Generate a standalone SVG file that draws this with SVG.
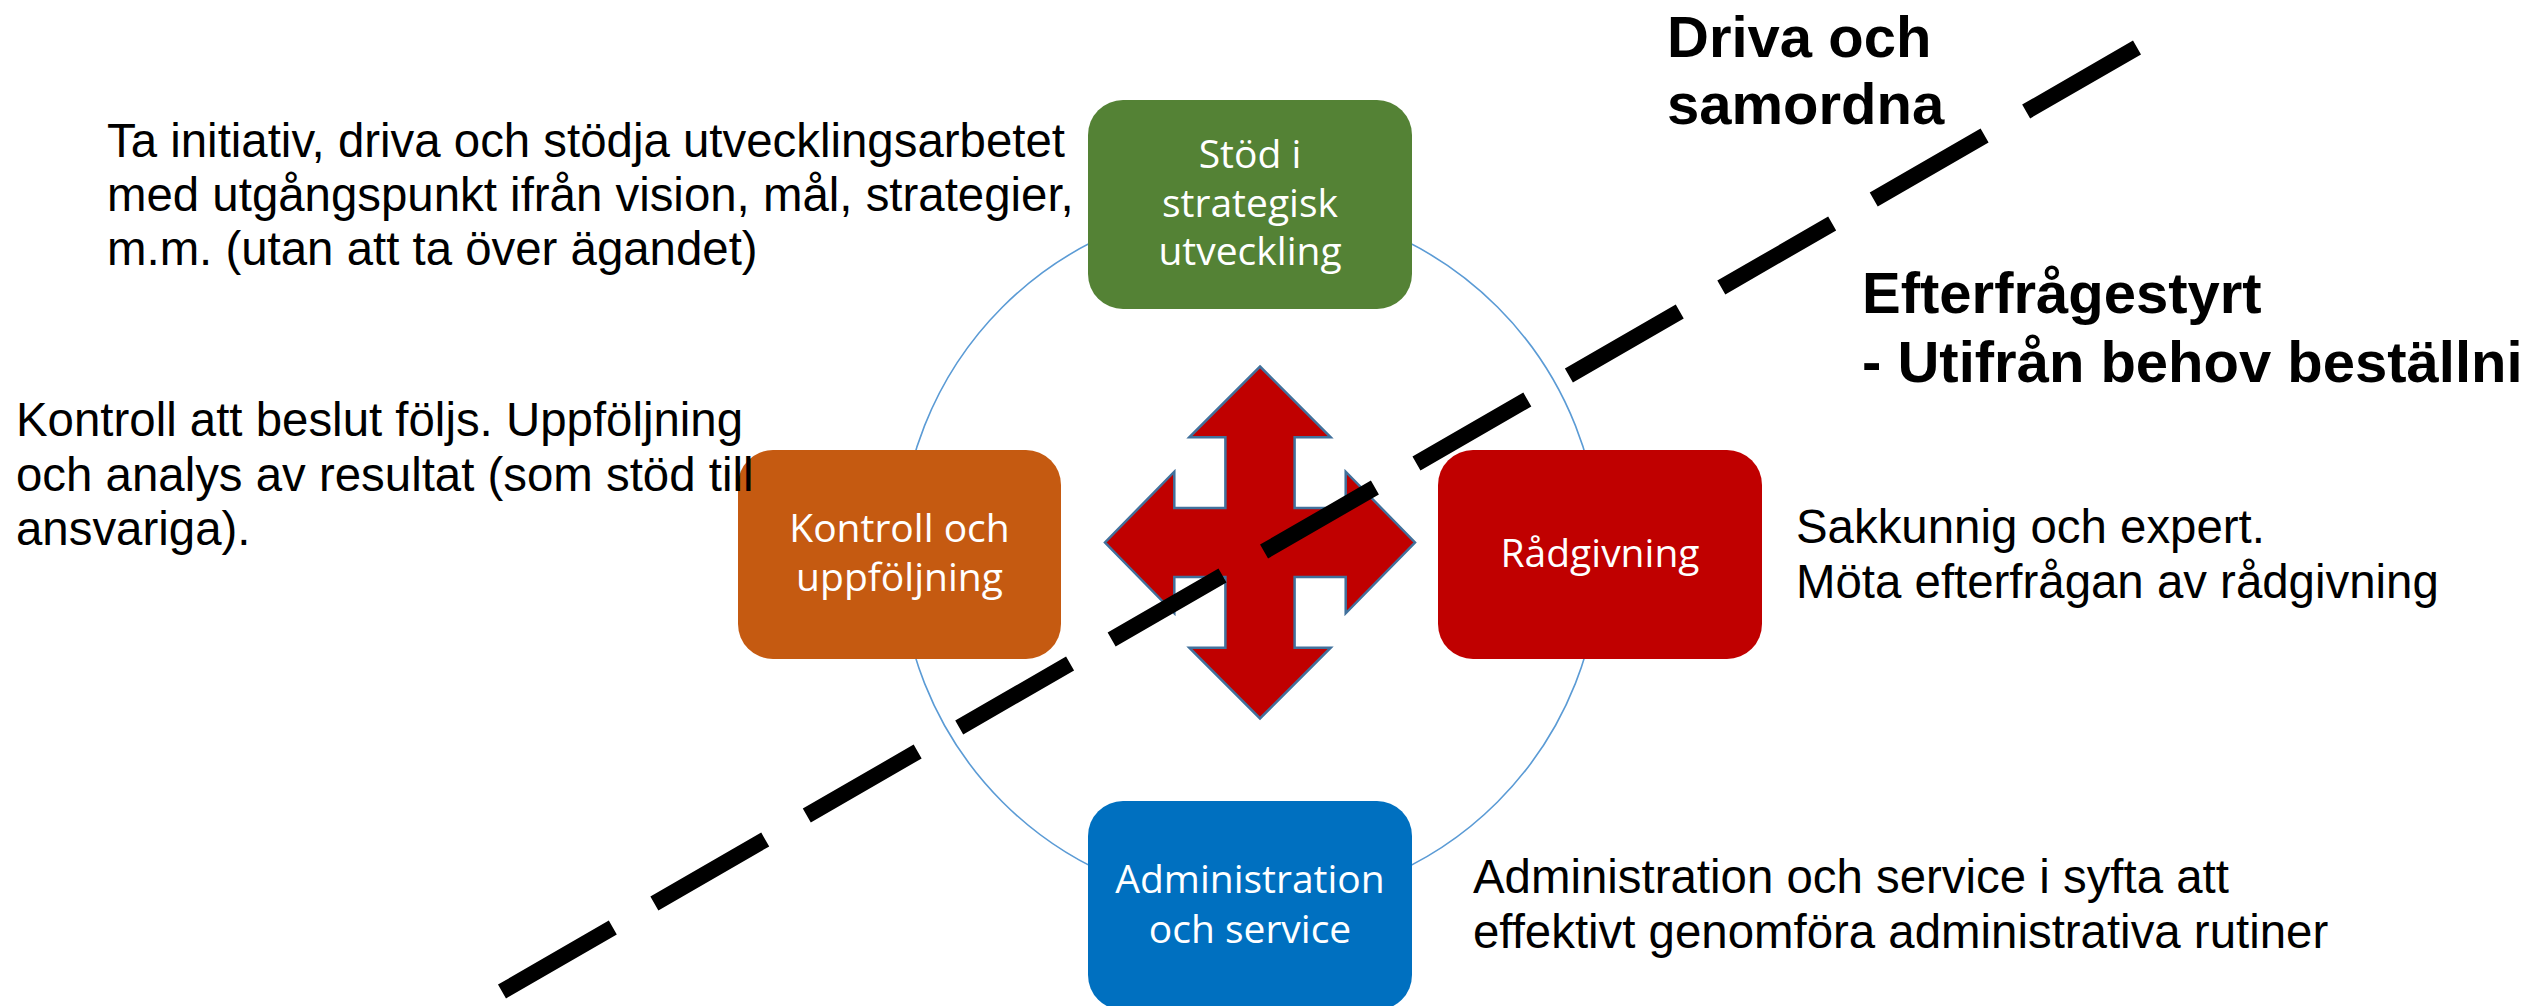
<svg xmlns="http://www.w3.org/2000/svg" width="2530" height="1006" viewBox="0 0 2530 1006">
<style>
.box-text{font-family:"Open Sans","Noto Sans",sans-serif;font-size:39px;fill:#ffffff;text-anchor:middle}
.body{font-family:"Liberation Sans",Arial,sans-serif;font-size:47.4px;fill:#000000}
.head{font-family:"Liberation Sans",Arial,sans-serif;font-size:58px;font-weight:bold;fill:#000000}
</style>
<rect width="2530" height="1006" fill="#ffffff"/>
<g id="connectors">
<circle cx="1250" cy="554.5" r="350" fill="none" stroke="#5B9BD5" stroke-width="1.6"/>
</g>
<g id="node-strategisk" class="node">
<rect x="1088" y="100" width="324" height="209" rx="35" fill="#548235"/>
<text class="box-text" x="1250" y="168">Stöd i</text>
<text class="box-text" x="1250" y="217">strategisk</text>
<text class="box-text" x="1250" y="265">utveckling</text>
</g>
<g id="node-kontroll" class="node">
<rect x="738" y="450" width="323" height="209" rx="35" fill="#C55A11"/>
<text class="box-text" x="899.5" y="542">Kontroll och</text>
<text class="box-text" x="899.5" y="591">uppföljning</text>
</g>
<g id="node-radgivning" class="node">
<rect x="1438" y="450" width="324" height="209" rx="35" fill="#C00000"/>
<text class="box-text" x="1600" y="567">Rådgivning</text>
</g>
<g id="node-administration" class="node">
<rect x="1088" y="801" width="324" height="209" rx="35" fill="#0070C0"/>
<text class="box-text" x="1250" y="893">Administration</text>
<text class="box-text" x="1250" y="943">och service</text>
</g>
<g id="quad-arrow">
<polygon points="1260,366.5 1330.7,437.3 1294.6,437.3 1294.6,508 1345.7,508 1345.7,471.7 1415,542.5 1345.7,613.3 1345.7,577 1294.6,577 1294.6,647.7 1330.7,647.7 1260,718.5 1189.3,647.7 1225.4,647.7 1225.4,577 1174.3,577 1174.3,613.3 1105,542.5 1174.3,471.7 1174.3,508 1225.4,508 1225.4,437.3 1189.3,437.3" fill="#C00000" stroke="#41719C" stroke-width="2.5" stroke-linejoin="miter"/>
</g>
<g id="divider">
<line x1="2137" y1="47.5" x2="502" y2="991.5" stroke="#000000" stroke-width="16" stroke-dasharray="128 48"/>
</g>
<g id="text-strategisk">
<text class="body" x="107" y="157">Ta initiativ, driva och stödja utvecklingsarbetet</text>
<text class="body" x="107" y="211">med utgångspunkt ifrån vision, mål, strategier,</text>
<text class="body" x="107" y="265">m.m. (utan att ta över ägandet)</text>
</g>
<g id="text-kontroll">
<text class="body" x="16" y="436">Kontroll att beslut följs. Uppföljning</text>
<text class="body" x="16" y="491">och analys av resultat (som stöd till</text>
<text class="body" x="16" y="545">ansvariga).</text>
</g>
<g id="text-radgivning">
<text class="body" x="1796" y="543">Sakkunnig och expert.</text>
<text class="body" x="1796" y="598">Möta efterfrågan av rådgivning</text>
</g>
<g id="text-administration">
<text class="body" x="1473" y="893">Administration och service i syfta att</text>
<text class="body" x="1473" y="948">effektivt genomföra administrativa rutiner</text>
</g>
<g id="text-driva">
<text class="head" x="1667" y="57">Driva och</text>
<text class="head" x="1667" y="124">samordna</text>
</g>
<g id="text-efterfragestyrt">
<text class="head" x="1862" y="313">Efterfrågestyrt</text>
<text class="head" x="1862" y="382" font-size="58.8">- Utifrån behov beställni</text>
</g>
</svg>
